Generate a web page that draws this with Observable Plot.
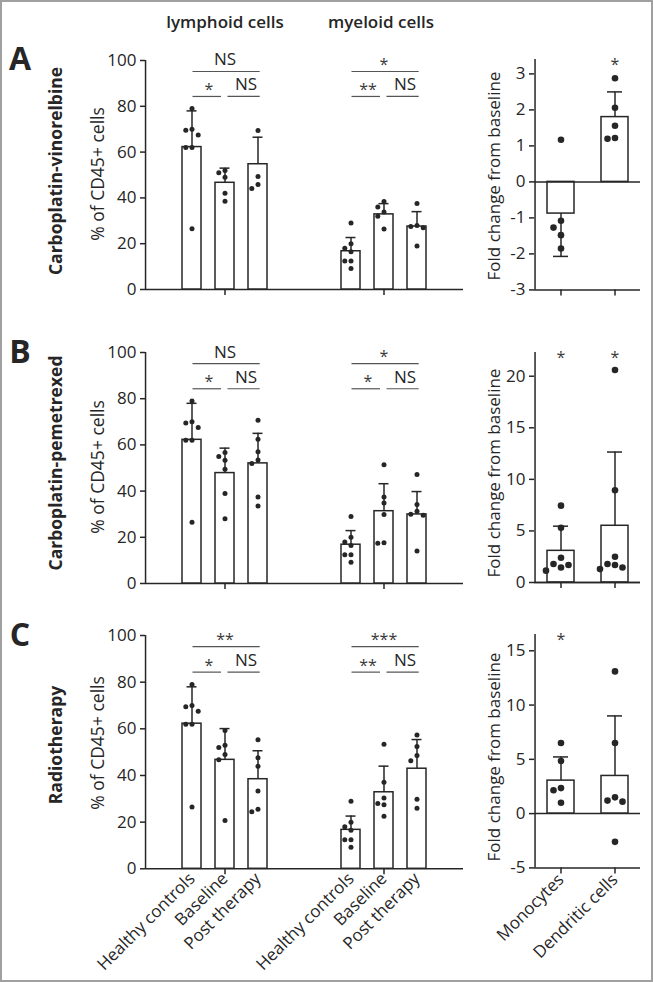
<!DOCTYPE html>
<html><head><meta charset="utf-8">
<script src="https://cdn.jsdelivr.net/npm/d3@7"></script>
<script src="https://cdn.jsdelivr.net/npm/@observablehq/plot@0.6"></script>
<style>
body{margin:0;background:#fff;}
#fig{position:relative;width:653px;height:982px;overflow:hidden;background:#fff;font-family:"Open Sans",sans-serif;color:#262626;}
#fig svg{position:absolute;overflow:visible;}
#border{position:absolute;left:0;top:0;width:653px;height:982px;box-sizing:border-box;border:2px solid #a0a0a0;pointer-events:none;z-index:5;}
.lbl{position:absolute;white-space:nowrap;line-height:1;transform-origin:center;z-index:3;}
</style></head><body><div id="fig"><div id="border"></div></div>
<script>
// ---------------- data ----------------
const conditions = ["Healthy controls", "Baseline", "Post therapy"];
const cellTypes = ["lymphoid cells", "myeloid cells"];
const foldCells = ["Monocytes", "Dendritic cells"];
const rowLetters = ["A", "B", "C"];
const rowTitles = ["Carboplatin-vinorelbine", "Carboplatin-pemetrexed", "Radiotherapy"];
const yLabelLeft = "% of CD45+ cells";
const yLabelRight = "Fold change from baseline";
const percentTicks = [0, 20, 40, 60, 80, 100];
const foldTicksA = [-3, -2, -1, 0, 1, 2, 3];
const foldTicksB = [0, 5, 10, 15, 20];
const foldTicksC = [-5, 0, 5, 10, 15];
const foldDomainA = [-3, 3.4];
const foldDomainB = [0, 22.3];
const foldDomainC = [-5, 16.5];

// healthy controls (same donors in every row)
const hcLymphoid = [79, 70, 69.5, 67.5, 62, 62, 26.5];
const hcMyeloid = [29, 20, 18, 16.5, 12.5, 12.5, 9.2];

// order of bar values: lymphoid HC, BL, PT, myeloid HC, BL, PT
// significance per cell type: [HC vs PT, HC vs BL, BL vs PT]
// Row A: carboplatin-vinorelbine
const meanA = [62.2, 46.6, 54.7, 16.7, 32.8, 27.5];
const sdTopA = [78, 53, 66.5, 22.7, 37.5, 34];
const lymBaseA = [52, 51, 49, 42, 38.5];
const lymPostA = [69.4, 49.3, 45.8, 44.1];
const myeBaseA = [38.4, 36, 33.8, 32, 26.4];
const myePostA = [37.6, 28, 27.5, 27, 19];
const sigA = ["NS", "*", "NS", "*", "**", "NS"];
const foldMeanA = [-0.88, 1.8];
const foldSdEndA = [-2.07, 2.5];
const monoA = [1.17, -1.08, -1.27, -1.48, -1.85];
const dendA = [2.88, 2.06, 1.56, 1.22, 1.2];
const foldSigA = ["", "*"];

// Row B: carboplatin-pemetrexed
const meanB = [62.2, 47.8, 52, 16.8, 31.3, 29.9];
const sdTopB = [78, 58.6, 65, 22.9, 43.2, 39.8];
const lymBaseB = [56.7, 55, 53.4, 49.5, 39, 28];
const lymPostB = [70.7, 62.5, 57, 53.5, 52, 37.5, 33.6];
const myeBaseB = [51.4, 37.5, 34.8, 29.9, 17.6, 17.4];
const myePostB = [47.2, 34.2, 31.3, 30, 29.5, 14.1];
const sigB = ["NS", "*", "NS", "*", "*", "NS"];
const foldMeanB = [3.07, 5.5];
const foldSdEndB = [5.46, 12.65];
const monoB = [7.45, 5.3, 2.4, 1.8, 1.7, 1.45, 1.15];
const dendB = [20.6, 8.95, 2.5, 1.8, 1.7, 1.45, 1.3];
const foldSigB = ["*", "*"];

// Row C: radiotherapy
const meanC = [62.2, 46.7, 38.4, 16.7, 32.8, 42.9];
const sdTopC = [78, 60.1, 50.6, 22.6, 44, 55.4];
const lymBaseC = [59.3, 53, 52, 49, 46.7, 20.7];
const lymPostC = [55.3, 47.6, 44, 33.3, 25.5, 24.5];
const myeBaseC = [53.4, 37.1, 30.3, 28, 27.5, 22.5];
const myePostC = [57.3, 52.4, 48.6, 46.3, 29.8, 26];
const sigC = ["**", "*", "NS", "***", "**", "NS"];
const foldMeanC = [3.04, 3.47];
const foldSdEndC = [5.22, 9.0];
const monoC = [6.5, 4.85, 2.35, 2.15, 1.0];
const dendC = [13.1, 6.5, 1.5, 1.2, 1.1, -2.6];
const foldSigC = ["*", ""];

// ---------------- assembly ----------------
const ink = "#262626";
const fmt = d => String(d);
const rows = [
  {mean: meanA, sd: sdTopA, dots: [hcLymphoid, lymBaseA, lymPostA, hcMyeloid, myeBaseA, myePostA], sig: sigA,
   fMean: foldMeanA, fSd: foldSdEndA, fDots: [monoA, dendA], fSig: foldSigA, fDomain: foldDomainA, fTicks: foldTicksA,
   L: {top: 60, bottom: 289}, R: {top: 58.6, bottom: 289}, labels: false},
  {mean: meanB, sd: sdTopB, dots: [hcLymphoid, lymBaseB, lymPostB, hcMyeloid, myeBaseB, myePostB], sig: sigB,
   fMean: foldMeanB, fSd: foldSdEndB, fDots: [monoB, dendB], fSig: foldSigB, fDomain: foldDomainB, fTicks: foldTicksB,
   L: {top: 351.7, bottom: 582.7}, R: {top: 351.7, bottom: 581.7}, labels: false},
  {mean: meanC, sd: sdTopC, dots: [hcLymphoid, lymBaseC, lymPostC, hcMyeloid, myeBaseC, myePostC], sig: sigC,
   fMean: foldMeanC, fSd: foldSdEndC, fDots: [monoC, dendC], fSig: foldSigC, fDomain: foldDomainC, fTicks: foldTicksC,
   L: {top: 635, bottom: 868.3}, R: {top: 634.3, bottom: 867.7}, labels: true}
];

// simple deterministic swarm: spread points that would overlap
function swarm(values, pxPerUnit, minDist) {
  const order = values.map((v, i) => i).sort((a, b) => values[b] - values[a]);
  const placed = [];
  for (const i of order) {
    const v = values[i];
    for (const k of [0, -1, 1, -2, 2, -3, 3]) {
      if (placed.every(p => Math.hypot((p.k - k) * minDist, (p.v - v) * pxPerUnit) >= minDist)) {
        placed.push({v, k}); break;
      }
    }
  }
  return placed;
}
// distance from the centre of the first band to the left edge of the range
function firstBandOffset(width, n, pi, po) {
  const step = width / (n - pi + 2 * po);
  return po * step + (1 - pi) * step / 2;
}

const fig = document.getElementById("fig");
const MT = 40;
const LEFT_W = 470, LEFT_ML = 144, LEFT_MR = 7, L_PI = 0.43, L_PO = 1.11;
const RIGHT_W = 183, RIGHT_ML = 64, RIGHT_MR = 13, R_PI = 0.5, R_PO = 0.23;
const TICK_FONT = 17;

function place(svg, left, top) {
  svg.style.left = left + "px";
  svg.style.top = top + "px";
  fig.appendChild(svg);
}

function leftPanel(row) {
  const frameH = row.L.bottom - row.L.top;
  const pxu = frameH / 100;
  const facetW = (LEFT_W - LEFT_ML - LEFT_MR) / cellTypes.length;
  const edge = firstBandOffset(facetW, conditions.length, L_PI, L_PO);
  const bars = [];
  const dots = [];
  cellTypes.forEach((cell, c) => conditions.forEach((cond, j) => {
    const idx = c * 3 + j;
    bars.push({cell, cond, mean: row.mean[idx], sd: row.sd[idx]});
    for (const p of swarm(row.dots[idx], pxu, 6.2)) dots.push({cell, cond, value: p.v, k: p.k});
  }));
  const brackets = [];
  cellTypes.forEach((cell, c) => {
    brackets.push({cell, kind: "top", from: conditions[0], to: conditions[2], at: conditions[1], label: row.sig[c * 3]});
    brackets.push({cell, kind: "left", from: conditions[0], to: conditions[1], at: conditions[0], label: row.sig[c * 3 + 1]});
    brackets.push({cell, kind: "right", from: conditions[1], to: conditions[2], at: conditions[2], label: row.sig[c * 3 + 2]});
  });
  const kinds = {
    top: {level: 95.2, insetLeft: 10.5, insetRight: 7.3, dx: 0},
    left: {level: 84.3, insetLeft: 10.5, insetRight: 13, dx: 17},
    right: {level: 84.3, insetLeft: 12.5, insetRight: 7.3, dx: -12}
  };
  const marks = [
    Plot.ruleY([0], {stroke: ink, strokeWidth: 1.5}),
    // y axis line at the left edge of the first facet
    Plot.ruleX([{cell: cellTypes[0], cond: conditions[0]}], {fx: "cell", x: "cond", dx: -edge,
      y1: () => percentTicks[0], y2: () => percentTicks[percentTicks.length - 1], stroke: ink, strokeWidth: 1.5}),
    Plot.barY(bars, {fx: "cell", x: "cond", y: "mean", fill: "white", stroke: ink, strokeWidth: 1.5}),
    Plot.ruleX(bars, {fx: "cell", x: "cond", y1: "mean", y2: "sd", stroke: ink, strokeWidth: 1.5}),
    Plot.tickY(bars, {fx: "cell", x: "cond", y: "sd", inset: 4.5, stroke: ink, strokeWidth: 1.5}),
    ...[-3, -2, -1, 0, 1, 2, 3].map(k => Plot.dot(dots.filter(d => d.k === k),
      {fx: "cell", x: "cond", y: "value", dx: k * 6.2, r: 2.5, fill: ink, stroke: null}))
  ];
  for (const [kind, o] of Object.entries(kinds)) {
    const bs = brackets.filter(b => b.kind === kind);
    marks.push(Plot.ruleY(bs, {fx: "cell", x1: "from", x2: "to", y: () => o.level,
      insetLeft: o.insetLeft, insetRight: o.insetRight, stroke: "#555", strokeWidth: 1.2}));
    marks.push(Plot.text(bs.filter(b => b.label === "NS"), {fx: "cell", x: "at", y: () => o.level, text: "label",
      dx: o.dx, dy: -6, lineAnchor: "bottom", fontSize: 17, fill: ink}));
    marks.push(Plot.text(bs.filter(b => b.label !== "NS"), {fx: "cell", x: "at", y: () => o.level, text: "label",
      dx: o.dx, dy: -1.5, lineAnchor: "bottom", fontSize: 16, fill: "#3a3a3a"}));
  }
  marks.push(Plot.axisX({ticks: [conditions[1]], tickFormat: () => "", tickSize: 6, strokeWidth: 1.5, label: null}));
  if (row.labels) marks.push(Plot.axisX({tickSize: 0, tickRotate: -45, tickPadding: 7, fontSize: TICK_FONT, label: null}));
  marks.push(Plot.axisY({ticks: percentTicks, tickFormat: fmt, tickSize: 5, tickPadding: 4, strokeWidth: 1.5, fontSize: TICK_FONT, label: null}));
  const mb = row.labels ? 120 : 20;
  const svg = Plot.plot({
    width: LEFT_W, height: MT + frameH + mb,
    marginTop: MT, marginBottom: mb, marginLeft: LEFT_ML, marginRight: LEFT_MR,
    style: {fontFamily: "Open Sans", fontSize: "15px", color: ink, background: "transparent", overflow: "visible"},
    fx: {domain: cellTypes, padding: 0, axis: null, label: null},
    x: {domain: conditions, paddingInner: L_PI, paddingOuter: L_PO, axis: null, label: null},
    y: {domain: [0, 100], axis: null, label: null},
    marks
  });
  place(svg, 0, row.L.top - MT);
}

function rightPanel(row) {
  const frameH = row.R.bottom - row.R.top;
  const frameW = RIGHT_W - RIGHT_ML - RIGHT_MR;
  const edge = firstBandOffset(frameW, foldCells.length, R_PI, R_PO);
  const pxu = frameH / (row.fDomain[1] - row.fDomain[0]);
  const bars = foldCells.map((cell, i) => ({cell, mean: row.fMean[i], sd: row.fSd[i], sig: row.fSig[i]}));
  const dots = [];
  foldCells.forEach((cell, i) => { for (const p of swarm(row.fDots[i], pxu, 7.5)) dots.push({cell, value: p.v, k: p.k}); });
  const marks = [
    Plot.barY(bars, {x: "cell", y: "mean", fill: "white", stroke: ink, strokeWidth: 1.5}),
    Plot.ruleY([0], {stroke: ink, strokeWidth: 1.5}),
    // axis lines: bottom and left edge of the frame
    Plot.ruleY([row.fDomain[0]], {stroke: ink, strokeWidth: 1.5}),
    Plot.ruleX([foldCells[0]], {x: d => d, dx: -edge, y1: () => row.fDomain[0], y2: () => row.fDomain[1], stroke: ink, strokeWidth: 1.5}),
    Plot.ruleX(bars, {x: "cell", y1: "mean", y2: "sd", stroke: ink, strokeWidth: 1.5}),
    Plot.tickY(bars, {x: "cell", y: "sd", inset: 6, stroke: ink, strokeWidth: 1.5}),
    ...[-3, -2, -1, 0, 1, 2, 3].map(k => Plot.dot(dots.filter(d => d.k === k),
      {x: "cell", y: "value", dx: k * 7.5, r: 3.3, fill: ink, stroke: null})),
    Plot.text(bars.filter(b => b.sig), {x: "cell", text: "sig", frameAnchor: "top", lineAnchor: "top", dy: -1, fontSize: 16, fill: "#3a3a3a"}),
    row.labels
      ? Plot.axisX({tickSize: 6, tickRotate: -45, tickPadding: 3, strokeWidth: 1.5, fontSize: TICK_FONT, label: null})
      : Plot.axisX({tickSize: 6, tickFormat: () => "", strokeWidth: 1.5, label: null}),
    Plot.axisY({ticks: row.fTicks, tickFormat: fmt, tickSize: 5, tickPadding: 4, strokeWidth: 1.5, fontSize: TICK_FONT, label: null})
  ];
  const mb = row.labels ? 120 : 20;
  const svg = Plot.plot({
    width: RIGHT_W, height: MT + frameH + mb,
    marginTop: MT, marginBottom: mb, marginLeft: RIGHT_ML, marginRight: RIGHT_MR,
    style: {fontFamily: "Open Sans", fontSize: "15px", color: ink, background: "transparent", overflow: "visible"},
    x: {domain: foldCells, paddingInner: R_PI, paddingOuter: R_PO, axis: null, label: null},
    y: {domain: row.fDomain, axis: null, label: null},
    marks
  });
  place(svg, LEFT_W, row.R.top - MT);
}

rows.forEach(r => { leftPanel(r); rightPanel(r); });

// ---------------- text labels ----------------
function label(text, cx, cy, css, rotate) {
  const d = document.createElement("div");
  d.className = "lbl";
  d.textContent = text;
  d.style.left = cx + "px";
  d.style.top = cy + "px";
  d.style.transform = "translate(-50%,-50%)" + (rotate ? " rotate(-90deg)" : "");
  Object.assign(d.style, css);
  fig.appendChild(d);
}
label(cellTypes[0], 225, 21, {fontSize: "17px", fontWeight: 600});
label(cellTypes[1], 381, 21, {fontSize: "17px", fontWeight: 600});
const letterY = [57.5, 351, 633.5];
const titleY = [171, 463, 745];
const yLeftY = [174, 467, 743];
const yRightY = [176, 473, 757];
rowLetters.forEach((L, i) => {
  label(L, 20, letterY[i], {fontSize: "32px", fontWeight: 700});
  label(rowTitles[i], 56, titleY[i], {fontSize: "17.5px", fontWeight: 700}, true);
  label(yLabelLeft, 98, yLeftY[i], {fontSize: "17.5px"}, true);
  label(yLabelRight, 493, yRightY[i], {fontSize: "17px"}, true);
});
</script></body></html>
